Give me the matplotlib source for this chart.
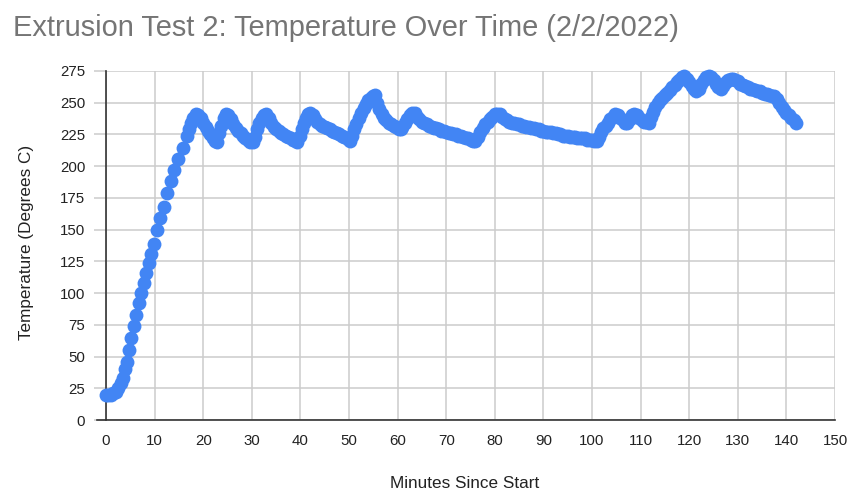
import matplotlib
matplotlib.use("Agg")
import matplotlib.pyplot as plt
from matplotlib.lines import Line2D

minutes = [0, 0.5, 1, 1.5, 2, 2.5, 3, 3.5, 4, 4.4, 4.7, 5.2, 5.7, 6.1, 6.7, 7.3, 7.8, 8.3, 8.8, 9.3,
           9.8, 10.5, 11.2, 11.9, 12.6, 13.3, 14, 14.9, 15.8,
           16.6, 17, 17.5, 18, 18.5, 19, 19.5, 20, 20.5, 21, 21.5, 22, 22.5, 22.9,
           23.3, 23.7, 24.2, 24.7, 25.2, 25.7, 26.2, 26.7, 27.2, 27.7, 28.2, 28.7, 29.2, 29.7, 30.2,
           30.7, 31.1, 31.5, 32, 32.5, 33, 33.5, 34, 34.5, 35, 35.5, 36, 36.5, 37, 37.5, 38, 38.5,
           39, 39.4,
           39.9, 40.3, 40.7, 41.1, 41.5, 42, 42.5, 43, 43.5, 44, 44.5, 45, 45.5, 46, 46.5, 47, 47.5,
           48, 48.5, 49, 49.5, 50, 50.3,
           50.7, 51.1, 51.5, 52, 52.5, 53, 53.5, 54, 54.5, 55, 55.4, 55.8, 56.2, 56.7, 57.2, 57.7,
           58.2, 58.7, 59.2, 59.7, 60.2, 60.6,
           61, 61.5, 62, 62.5, 63, 63.5, 64, 64.5, 65, 65.5, 66, 66.5, 67, 67.5, 68, 68.5, 69, 69.5,
           70, 70.5, 71, 71.5, 72, 72.5, 73, 73.5, 74, 74.5, 75, 75.5, 76,
           76.5, 77, 77.5, 78, 78.5, 79, 79.5, 80, 80.5, 81, 81.5, 82, 82.5, 83, 83.5, 84, 84.5, 85,
           85.5, 86, 86.5, 87, 87.5, 88, 88.5, 89, 89.5, 90, 90.5, 91, 91.5, 92, 92.5, 93, 93.5, 94,
           94.5, 95, 95.5, 96, 96.5, 97, 97.5, 98, 98.5, 99, 99.5, 100, 100.5, 101,
           101.4, 101.8, 102.3, 102.8, 103.3, 103.8, 104.3, 104.8, 105.3, 105.8, 106.3, 106.8,
           107.3, 107.8, 108.3, 108.7, 109.2, 109.7, 110.2, 110.7, 111.2, 111.7,
           112.1, 112.5, 113, 113.5, 114, 114.5, 115, 115.5, 116, 116.5, 117, 117.5, 118, 118.5,
           119, 119.5, 120, 120.5, 121, 121.5, 122, 122.5, 123, 123.5, 124, 124.5, 125, 125.5,
           126, 126.5, 127, 127.5, 128, 128.5, 129, 129.5, 130, 130.5, 131, 131.5, 132, 132.5,
           133, 133.5, 134, 134.5, 135, 135.5, 136, 136.5, 137, 137.5, 138, 138.5, 139, 139.5,
           140, 140.5, 141, 141.5, 142]
temps = [20, 20, 20, 21, 22, 25, 29, 33, 40, 46, 55, 65, 74, 83, 92, 100, 108, 116, 124, 131,
         139, 150, 159, 168, 179, 188, 197, 206, 214,
         224, 229, 234, 238, 241, 240, 238, 234, 231, 228, 225, 222, 220, 219,
         226, 232, 238, 241, 240, 237, 233, 230, 228, 226, 224, 222, 221, 219, 219,
         223, 229, 234, 238, 240, 241, 238, 234, 231, 229, 228, 226, 225, 224, 223, 222, 221,
         220, 219,
         224, 229, 234, 238, 241, 242, 240, 237, 235, 233, 232, 231, 230, 229, 228, 227, 226,
         225, 224, 223, 222, 221, 220,
         224, 229, 233, 238, 242, 246, 249, 252, 254, 255, 256, 250, 245, 241, 238, 236,
         234, 233, 232, 231, 229, 229,
         231, 234, 237, 240, 242, 242, 239, 237, 235, 234, 233, 232, 231, 230, 230, 229, 228, 228,
         227, 226, 226, 225, 225, 224, 224, 223, 222, 222, 221, 220, 220,
         223, 227, 230, 233, 235, 237, 239, 241, 241, 241, 239, 237, 236, 235, 234, 234, 233, 233,
         232, 232, 231, 231, 230, 230, 229, 229, 228, 228, 227, 227, 227, 226, 226, 225, 225, 224,
         224, 224, 223, 223, 223, 222, 222, 222, 222, 221, 221, 221, 220, 220,
         223, 227, 230, 232, 234, 237, 239, 241, 240, 238, 236, 234,
         234, 237, 240, 241, 240, 238, 236, 235, 235, 234,
         239, 243, 247, 250, 252, 254, 256, 258, 260, 262, 264, 266, 268, 270,
         271, 269, 266, 263, 261, 259, 261, 265, 268, 270, 271, 270, 268, 265,
         262, 261, 263, 266, 268, 269, 269, 268, 267, 265, 264, 263, 262, 261,
         261, 260, 259, 259, 258, 257, 257, 256, 255, 255, 253, 250, 247, 244,
         242, 240, 238, 236, 234]

x_ticks = list(range(0, 151, 10))
y_ticks = list(range(0, 276, 25))

plt.rcParams['font.family'] = ['Liberation Sans', 'DejaVu Sans']

fig = plt.figure(figsize=(8.52, 4.93), dpi=100)
ax = fig.add_axes([106/852, 1 - 420/493, (835-106)/852, (420-71)/493])

ax.plot(minutes, temps, linestyle='none', marker='o', markersize=10,
        color='#4285F4', markeredgewidth=0, zorder=3, clip_on=False)

ax.set_xlim(0, 150)
ax.set_ylim(0, 275)
ax.set_xticks(x_ticks)
ax.set_yticks(y_ticks)
ax.grid(True, color='#cccccc', linewidth=1.1, zorder=0)
ax.set_axisbelow(True)

for s in ['top', 'right', 'bottom']:
    ax.spines[s].set_visible(False)
ax.spines['left'].set_color('#333333')
ax.spines['left'].set_linewidth(1.2)
ax.spines['left'].set_zorder(2)

ax.tick_params(axis='y', length=9, color='#cccccc', width=1.1, pad=6,
               labelsize=10.8, labelcolor='#222222')
ax.tick_params(axis='x', length=0, pad=10, labelsize=10.8, labelcolor='#222222')

ax.add_line(Line2D([-9/729, 1], [0, 0], transform=ax.transAxes, color='#333333',
                   linewidth=1.2, clip_on=False, zorder=2))

fig.text(13/852, 1 - 36/493, 'Extrusion Test 2: Temperature Over Time (2/2/2022)',
         fontsize=20.9, color='#757575', ha='left', va='baseline')
fig.text(465/852, 1 - 488/493, 'Minutes Since Start', fontsize=12.3, color='#222222',
         ha='center', va='baseline')
fig.text(27/852, 1 - 242/493, 'Temperature (Degrees C)', fontsize=12.3, color='#222222',
         ha='center', va='center', rotation=90)

fig.savefig('out.png', dpi=100)
